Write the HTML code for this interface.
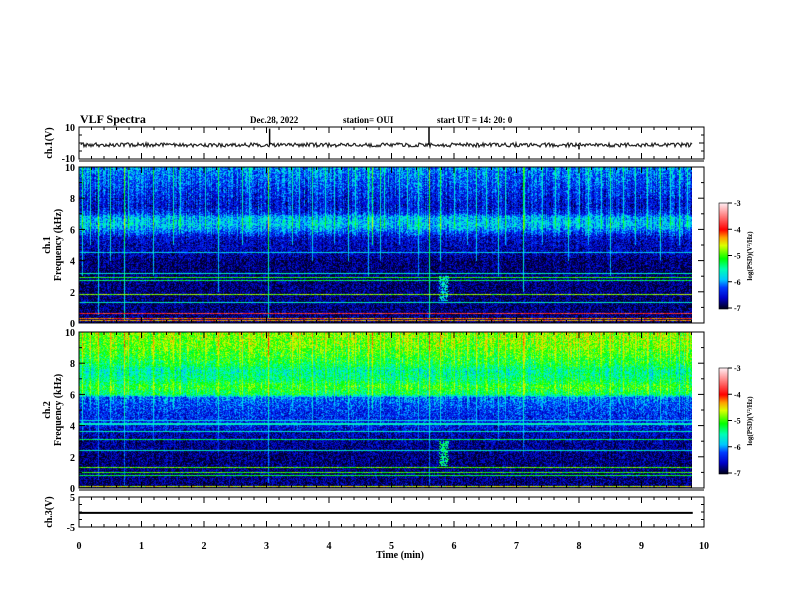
<!DOCTYPE html>
<html><head><meta charset="utf-8"><style>
body{margin:0;background:#fff;}
#wrap{position:relative;width:792px;height:612px;overflow:hidden;font-family:"Liberation Serif",serif;}
svg text{font-family:"Liberation Serif",serif;font-weight:bold;fill:#000;}
canvas{position:absolute;}
</style></head><body>
<div id="wrap">
<canvas id="c1" width="613" height="156" style="left:79px;top:167px"></canvas>
<canvas id="c2" width="613" height="156" style="left:79px;top:332px"></canvas>
<canvas id="cb1" width="9" height="106" style="left:719px;top:203px"></canvas>
<canvas id="cb2" width="9" height="106" style="left:719px;top:368px"></canvas>
<svg id="s" width="792" height="612" style="position:absolute;left:0;top:0"></svg>
</div>
<script>
// ---- data ----
const timeTicks=[0,1,2,3,4,5,6,7,8,9,10];
const specTicks=[0,2,4,6,8,10];
const cbTicks=[-3,-4,-5,-6,-7];
const dataEndMin=9.82;
const profFreq1=[0,1,2,3,4,4.5,5,5.5,6,6.3,6.8,7,7.5,8,9,10];
const profVal1=[-6.8,-6.8,-6.8,-6.8,-6.8,-6.6,-6.6,-6.5,-6.0,-5.8,-5.9,-6.3,-6.5,-6.4,-6.2,-6.0];
const profFreq2=[0,1,2,3,3.5,4,5,5.8,6,6.5,7,7.5,8,9,10];
const profVal2=[-6.8,-6.8,-6.8,-6.7,-6.6,-6.4,-6.3,-6.1,-5.3,-5.1,-5.4,-5.5,-5.2,-4.9,-4.8];
const lineFreq1=[0.15,0.3,0.6,1.3,1.85,2.7,2.9,3.2,4.5];
const lineVal1=[-4.3,-4.2,-3.8,-5.6,-4.8,-5.3,-5.1,-5.6,-5.8];
const lineFreq2=[0.1,0.8,1.0,1.3,2.4,3.1,3.6,4.1,4.3];
const lineVal2=[-4.6,-5.2,-5.0,-4.9,-5.6,-5.3,-5.6,-5.6,-5.7];
const spikeTimes=[0.05,0.18,0.31,0.5,0.72,0.78,1.18,1.5,1.62,2.02,2.22,2.6,2.72,3.02,3.4,3.52,3.72,3.94,4.08,4.3,4.42,4.62,4.68,4.82,4.88,5.12,5.24,5.42,5.6,5.78,6.0,6.2,6.35,6.52,6.7,6.82,7.1,7.12,7.4,7.62,7.82,8.0,8.15,8.35,8.5,8.7,8.9,9.08,9.3,9.45,9.6,9.72];
const spikeDepth=[3,5,0.5,4,0.2,6,3,5,6,6,2,5,6,0.3,5,6,4,6,5,4,6,3,5,4,6,5,6,3,0.2,4,6,5,4,6,3,5,2,6,5,6,4,6,5,6,3,6,5,6,4,6,5,6];
const spikeAmp=[0.9,0.7,1.0,0.8,1.2,0.7,0.9,0.8,0.7,0.6,0.9,0.8,0.6,1.3,0.7,0.6,0.8,0.7,0.6,0.8,0.7,0.9,1.1,0.8,0.7,0.6,0.7,0.8,1.3,1.0,0.7,0.6,0.8,0.7,0.9,0.7,1.1,0.8,0.6,0.7,0.8,0.6,0.7,0.6,0.8,0.7,0.6,0.7,0.8,0.6,0.7,0.6];
const ch1SpikeTimes=[3.05,5.6,8.0];
const ch1SpikeVals=[9,10,-4];
const ch1Level=-1.2;
const ch3Level=-0.3;
// ---- scales ----
const X0=79,X1=704;
const xs=t=>X0+(X1-X0)*t/10;
function hash(i,j,k){let h=(i*374761393+j*668265263+k*2147483647)|0;h=(h^(h>>>13))*1274126177|0;return((h^(h>>>16))>>>0)/4294967296;}
function interp(fs,vs,f){for(let i=1;i<fs.length;i++){if(f<=fs[i]){const a=(f-fs[i-1])/(fs[i]-fs[i-1]);return vs[i-1]+a*(vs[i]-vs[i-1]);}}return vs[vs.length-1];}
const stops=[[-7,[0,0,30]],[-6.6,[0,0,200]],[-6.2,[0,60,255]],[-5.9,[0,200,255]],[-5.5,[0,255,180]],[-5.1,[0,255,0]],[-4.6,[220,255,0]],[-4.3,[255,160,0]],[-4.0,[255,0,0]],[-3.5,[255,120,120]],[-3,[255,235,240]]];
function cmap(v){if(v<=-7)return stops[0][1];if(v>=-3)return stops[stops.length-1][1];for(let i=1;i<stops.length;i++){if(v<=stops[i][0]){const a=(v-stops[i-1][0])/(stops[i][0]-stops[i-1][0]);const c0=stops[i-1][1],c1=stops[i][1];return[0,1,2].map(k=>c0[k]+a*(c1[k]-c0[k]));}}}
function drawSpec(id,pf,pv,lf,lv,seed,whBoost,ampScale){
  const c=document.getElementById(id),ctx=c.getContext('2d'),W=c.width,H=c.height;
  const img=ctx.createImageData(W,H);
  const spx=spikeTimes.map(t=>Math.round(xs(t)-X0));
  for(let x=0;x<W;x++){
    const t=x/(X1-X0)*10;
    const colN=(hash(x,0,seed)-0.5)*0.5;
    for(let y=0;y<H;y++){
      const f=10*(1-(y+0.5)/H);
      let v=interp(pf,pv,f)+(hash(x,y,seed)-0.5)*0.8+(f>5.5?colN:colN*0.4);
      for(let k=0;k<lf.length;k++){if(Math.abs(f-lf[k])<0.035){v=Math.max(v,lv[k]+(hash(x,y,seed+7)-0.5)*0.5);}}
      for(let k=0;k<spx.length;k++){if(spx[k]===x&&f>spikeDepth[k]){v=Math.max(v,interp(pf,pv,f)+spikeAmp[k]*ampScale+(hash(x,y,seed+3)-0.5)*0.4);}}
      const dt=Math.abs(t-5.83);
      if(dt<0.08&&f>1.4&&f<3.0&&hash(x,y,5)<0.8-dt*6)v=Math.max(v,-5.8+whBoost+(hash(x,y,3)-0.5)*0.8);
      const col=cmap(v),o=(y*W+x)*4;
      img.data[o]=col[0];img.data[o+1]=col[1];img.data[o+2]=col[2];img.data[o+3]=255;
    }
  }
  for(let x=Math.round(xs(dataEndMin)-X0);x<W;x++)for(let y=0;y<H;y++){const o=(y*W+x)*4;img.data[o]=img.data[o+1]=img.data[o+2]=255;}
  ctx.putImageData(img,0,0);
}
drawSpec('c1',profFreq1,profVal1,lineFreq1,lineVal1,11,0,1);
drawSpec('c2',profFreq2,profVal2,lineFreq2,lineVal2,23,0.3,0.55);
['cb1','cb2'].forEach(id=>{const c=document.getElementById(id),ctx=c.getContext('2d');for(let y=0;y<106;y++){const col=cmap(-3-4*y/105);ctx.fillStyle=`rgb(${col.map(Math.round).join(',')})`;ctx.fillRect(0,y,9,1);}});
// ---- svg ----
const S=document.getElementById('s'),NS='http://www.w3.org/2000/svg';
function el(tag,attrs,txt){const e=document.createElementNS(NS,tag);for(const k in attrs)e.setAttribute(k,attrs[k]);if(txt!==undefined)e.textContent=txt;S.appendChild(e);return e;}
function line(x1,y1,x2,y2,w){return el('line',{x1,y1,x2,y2,stroke:'#000','stroke-width':w||1});}
function txt(x,y,s,size,anchor,rot){const a={x,y,'font-size':size,'text-anchor':anchor||'start'};if(rot)a.transform=`rotate(-90 ${x} ${y})`;return el('text',a,s);}
const panels=[{n:'ch1-panel',y0:127,y1:159},{n:'ch1-spec-panel',y0:167,y1:323},{n:'ch2-spec-panel',y0:332,y1:488},{n:'ch3-panel',y0:497,y1:527}];
panels.forEach(p=>{
  const r=el('rect',{x:X0,y:p.y0,width:X1-X0,height:p.y1-p.y0,fill:'none',stroke:'#000','stroke-width':1});
  
  for(let i=0;i<=50;i++){const x=xs(i*0.2),L=(i%5===0)?6:3;line(x,p.y1,x,p.y1-L);line(x,p.y0,x,p.y0+L);}
});
line(X0,161,X1,161);line(X0,490,X1,490);
// ch1
txt(75,131,'10',10,'end');txt(75,162,'-10',10,'end');
txt(52,143,'ch.1(V)',10,'middle',true);
[0.25,0.5,0.75].forEach(a=>{const y=127+32*a;line(X0,y,X0+(a===0.5?5:3),y);line(X1,y,X1-(a===0.5?5:3),y);});
const yc1=v=>143-v*16/10;
let pts='';const xe=xs(dataEndMin);
for(let x=X0+2;x<=xe;x+=1){pts+=x+','+(yc1(ch1Level)+(hash(x,1,9)-0.5)*4).toFixed(1)+' ';}
const b1=el('polyline',{points:pts,fill:'none',stroke:'#222','stroke-width':1.2});

ch1SpikeTimes.forEach((t,i)=>{const s=line(xs(t),yc1(ch1Level),xs(t),yc1(ch1SpikeVals[i]),1.5);});
// spectro axes
[[167,323,'ch.1'],[332,488,'ch.2']].forEach(([y0,y1,nm])=>{
  specTicks.forEach(v=>{const y=y1-(y1-y0)*v/10;txt(75,y+4,String(v),10,'end');});
  for(let v=0;v<=10;v++){const y=y1-(y1-y0)*v/10,L=v%2===0?6:3;line(X0,y,X0+L,y);line(X1,y,X1-L,y);}
  txt(50,(y0+y1)/2,nm,10,'middle',true);txt(61,(y0+y1)/2,'Frequency (kHz)',10,'middle',true);
});
// colorbars
[203,368].forEach(y0=>{
  cbTicks.forEach((v,i)=>{const y=y0+105*i/4;line(728,y,732,y);txt(734,y+3,String(v),8);});
  el('rect',{x:719,y:y0,width:9,height:106,fill:'none',stroke:'#000','stroke-width':0.6});
  txt(752,y0+53,'log(PSD)(V²/Hz)',7,'middle',true);
});
// ch3
txt(75,501,'5',10,'end');txt(75,531,'-5',10,'end');
txt(52,512,'ch.3(V)',10,'middle',true);
[0.25,0.5,0.75].forEach(a=>{const y=497+30*a;line(X0,y,X0+3,y);line(X1,y,X1-3,y);});
const yc3=512-ch3Level*15/5;
const c3=line(X0,yc3,xs(dataEndMin),yc3,2);

// time axis
timeTicks.forEach(t=>txt(xs(t),549,String(t),10,'middle'));
txt(400,558,'Time (min)',10,'middle');
// header
txt(80,123,'VLF Spectra',12);
txt(250,123,'Dec.28, 2022',9);txt(343,123,'station= OUI',9);txt(437,123,'start  UT =   14: 20: 0',9);
</script>
</body></html>
